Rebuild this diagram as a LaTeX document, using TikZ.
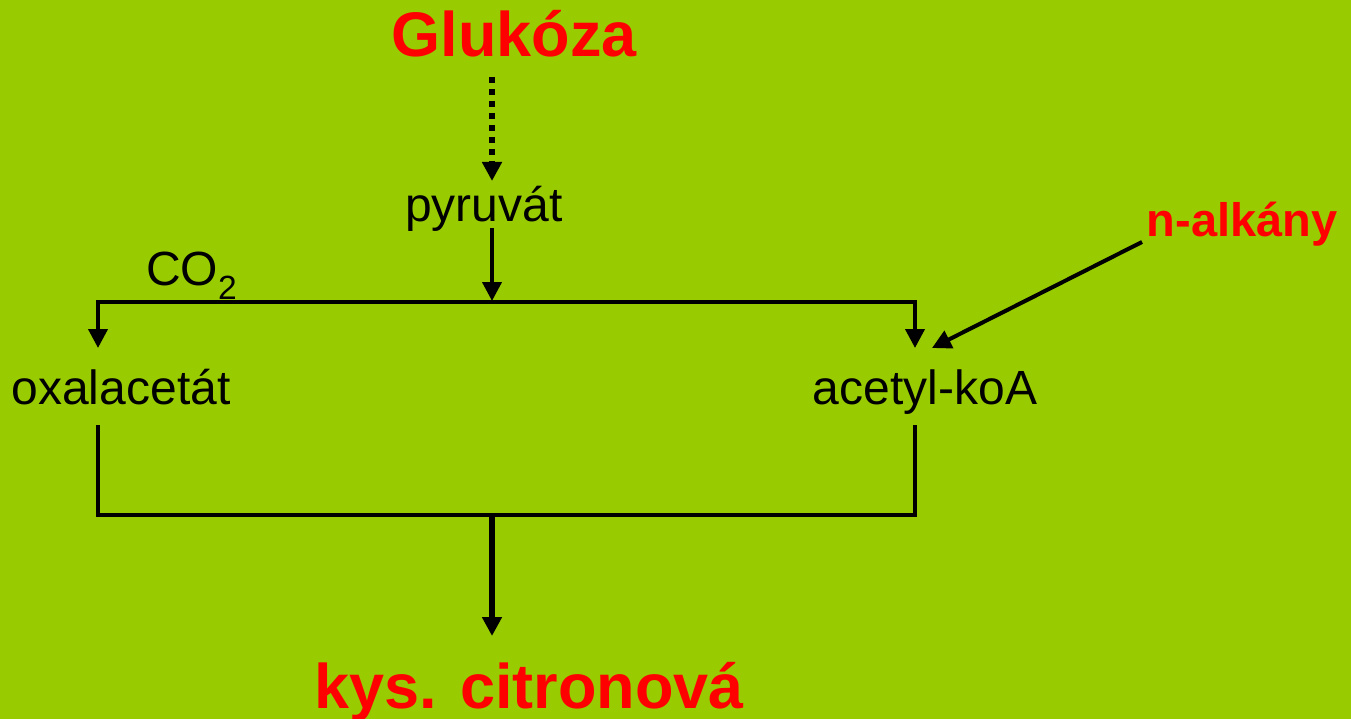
\documentclass[tikz,border=0pt]{standalone}
\usepackage{fontspec}
\setmainfont{Liberation Sans}
\usetikzlibrary{arrows.meta}
\definecolor{bg}{HTML}{99CC00}
\definecolor{redt}{HTML}{FF0000}
\begin{document}
\begin{tikzpicture}[x=1pt,y=-1pt,
  lbl/.style={font=\fontsize{48}{56}\selectfont, inner sep=0pt, anchor=base},
  bigred/.style={font=\bfseries\fontsize{63}{70}\selectfont, text=redt, inner sep=0pt, anchor=base},
  midred/.style={font=\bfseries\fontsize{47}{54}\selectfont, text=redt, inner sep=0pt, anchor=base},
  ln/.style={line width=4pt},
  tip/.style={-{Triangle[width=19pt,length=19pt]}},
  arr/.style={ln, tip},
  dotarr/.style={line width=6pt, dash pattern=on 6pt off 6pt, tip},
  fatarr/.style={line width=5.5pt, tip}]
\fill[bg] (0,0) rectangle (1351,719);
\useasboundingbox (0,0) rectangle (1351,719);

% texts
\node[bigred] (glu) at (514,57) {Glukóza};
\node[lbl] (pyr) at (484,222) {pyruvát};
\node[lbl, anchor=base west] (co2) at (146,285) {CO\textsubscript{2}};
\node[lbl] (oxa) at (121,404) {oxalacetát};
\node[lbl] (ace) at (925,404) {acetyl-koA};
\node[midred] (alk) at (1242,237) {n-alkány};
\node[bigred] (kys) at (529,708) {kys. citronová};

% junction coordinates
\coordinate (dA) at (492,77);
\coordinate (dB) at (492,181);
\coordinate (pA) at (492,228);
\coordinate (pB) at (492,301);
\coordinate (tl) at (98,302);
\coordinate (tr) at (915,302);
\coordinate (oxT) at (98,348);
\coordinate (acT) at (915,348);
\coordinate (alA) at (1142,242);
\coordinate (alB) at (932,348);
\coordinate (oxB) at (98,425);
\coordinate (acB) at (915,425);
\coordinate (bl) at (98,515);
\coordinate (br) at (915,515);
\coordinate (bm) at (492,515);
\coordinate (kT) at (492,636);

% connectors
\draw[dotarr] (dA) -- (dB);
\draw[arr] (pA) -- (pB);
\draw[ln] ([xshift=-2pt]tl) -- ([xshift=2pt]tr);
\draw[arr] ([yshift=-2pt]tl) -- (oxT);
\draw[arr] ([yshift=-2pt]tr) -- (acT);
\draw[arr] (alA) -- (alB);
\draw[ln] (oxB) -- (bl) -- (br) -- (acB);
\draw[fatarr] (bm) -- (kT);
\end{tikzpicture}
\end{document}
